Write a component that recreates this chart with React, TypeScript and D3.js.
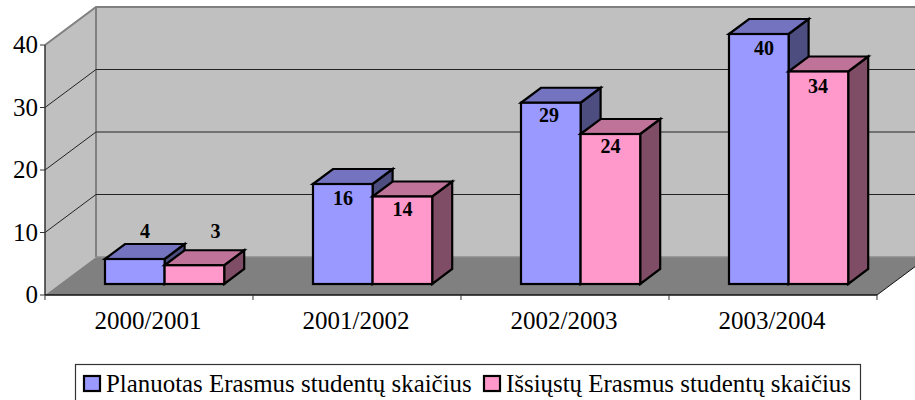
import React from "react";
import * as d3 from "d3";

const categories = ["2000/2001", "2001/2002", "2002/2003", "2003/2004"];
const planned = [4, 16, 29, 40];
const sent = [3, 14, 24, 34];
const yTicks = [0, 10, 20, 30, 40];
const seriesNames = ["Planuotas Erasmus studentų skaičius", "Išsiųstų Erasmus studentų skaičius"];
const FONT = "'Liberation Serif', 'Times New Roman', serif";

const x = d3.scaleBand<string>().domain(categories).range([45, 877]);
const y = d3.scaleLinear().domain([0, 40]).range([295, 45]);
const wallDx = 51, wallDy = -38;
const barBase = 284, barDx = 20, barDy = -15;
const barW = 59.6;
const barLeft = 60;
const barH = (v: number) => y(0) - y(v);
const pts = (p: number[][]) => p.map((q) => q.join(",")).join(" ");

// Label nudges relative to each bar's left edge / top edge
const plannedLabelDx = [40, 30, 28, 35];
const plannedLabelDy = [-21, 21, 19, 21];
const sentLabelDx = [51, 30, 30, 29.5];
const sentLabelDy = [-27, 19.5, 19, 21.5];

function Bar({ x0, v, front, top, side }: { x0: number; v: number; front: string; top: string; side: string }) {
  const t = barBase - barH(v);
  const x1 = x0 + barW;
  return (
    <g stroke="#000" strokeWidth={2.2} strokeLinejoin="miter">
      <polygon fill={side} points={pts([[x1, t], [x1 + barDx, t + barDy], [x1 + barDx, barBase + barDy], [x1, barBase]])} />
      <polygon fill={top} points={pts([[x0, t], [x0 + barDx, t + barDy], [x1 + barDx, t + barDy], [x1, t]])} />
      <rect x={x0} y={t} width={barW} height={barBase - t} fill={front} />
    </g>
  );
}

export default function App() {
  const x0 = x.range()[0], x1 = x.range()[1];
  return (
    <svg width={915} height={400} style={{ position: "absolute", left: 0, top: 0 }} fontFamily={FONT}>
      <rect width={915} height={400} fill="#fff" />
      <polygon fill="#c0c0c0" points={pts([[x0, y(0)], [x0 + wallDx, y(0) + wallDy], [x0 + wallDx, y(40) + wallDy], [x0, y(40)]])} />
      <rect x={x0 + wallDx} y={y(40) + wallDy} width={x1 - x0} height={y(0) - y(40)} fill="#c0c0c0" />
      <polygon fill="#808080" points={pts([[x0, y(0)], [x0 + wallDx, y(0) + wallDy], [x1 + wallDx, y(0) + wallDy], [x1, y(0)]])} />
      <polyline fill="none" stroke="#808080" strokeWidth={2} points={pts([[x0, y(40)], [x0 + wallDx, y(40) + wallDy], [x1 + wallDx, y(40) + wallDy]])} />
      <line x1={x0 + wallDx} x2={x0 + wallDx} y1={y(40) + wallDy} y2={y(0) + wallDy} stroke="#808080" strokeWidth={2} />
      <line x1={x0 + wallDx} x2={x1 + wallDx} y1={y(0) + wallDy} y2={y(0) + wallDy} stroke="#8c8c8c" strokeWidth={1.5} />
      {yTicks.filter((t) => t > 0 && t < 40).map((t) => (
        <polyline key={t} fill="none" stroke="#222" strokeWidth={1} points={pts([[x0, y(t)], [x0 + wallDx, y(t) + wallDy], [x1 + wallDx, y(t) + wallDy]])} />
      ))}
      <line x1={x0} x2={x0} y1={y(40)} y2={y(0)} stroke="#333" strokeWidth={1.5} />
      <line x1={x0} x2={x1} y1={y(0)} y2={y(0)} stroke="#111" strokeWidth={1.5} />
      <line x1={x1} x2={x1 + wallDx} y1={y(0)} y2={y(0) + wallDy} stroke="#111" strokeWidth={1} />
      {yTicks.map((t) => (
        <g key={t}>
          <line x1={x0 - 5} x2={x0} y1={y(t)} y2={y(t)} stroke="#333" strokeWidth={1} />
          <text x={x0 - 7} y={y(t) + 8} textAnchor="end" fontSize={25} fill="#000">{t}</text>
        </g>
      ))}
      {[...categories.map((c) => x(c)!), x1].map((p) => (
        <line key={p} x1={p} x2={p} y1={y(0)} y2={y(0) + 5} stroke="#333" strokeWidth={1} />
      ))}
      {categories.map((c) => (
        <text key={c} x={x(c)! + x.bandwidth() / 2 - 1} y={329} textAnchor="middle" fontSize={25} fill="#000">{c}</text>
      ))}
      {categories.map((c, i) => {
        const left = x(c)! + barLeft;
        return (
          <g key={c}>
            <Bar x0={left} v={planned[i]} front="#9999ff" top="#7373bf" side="#4d4d80" />
            <Bar x0={left + barW} v={sent[i]} front="#ff99cc" top="#bf7399" side="#804d66" />
          </g>
        );
      })}
      {categories.map((c, i) => {
        const left = x(c)! + barLeft;
        return (
          <g key={c} fontSize={20} fontWeight="bold" textAnchor="middle" fill="#000">
            <text x={left + plannedLabelDx[i]} y={barBase - barH(planned[i]) + plannedLabelDy[i]}>{planned[i]}</text>
            <text x={left + barW + sentLabelDx[i]} y={barBase - barH(sent[i]) + sentLabelDy[i]}>{sent[i]}</text>
          </g>
        );
      })}
      <rect x={75.5} y={364.5} width={785} height={40} fill="#fff" stroke="#333" strokeWidth={1.2} />
      {seriesNames.map((s, i) => {
        const sx = i === 0 ? 84 : 484;
        return (
          <g key={s}>
            <rect x={sx} y={376} width={16} height={15} fill={i === 0 ? "#9999ff" : "#ff99cc"} stroke="#000" strokeWidth={2.2} />
            <text x={sx + 22} y={392} fontSize={24.9} fill="#000">{s}</text>
          </g>
        );
      })}
    </svg>
  );
}
